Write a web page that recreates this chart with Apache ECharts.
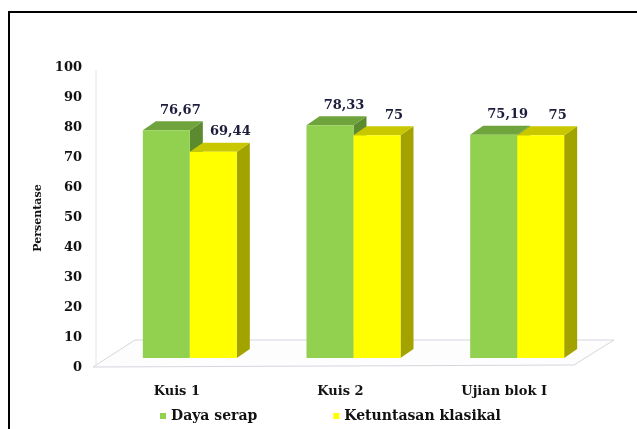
<!DOCTYPE html>
<html>
<head>
<meta charset="utf-8">
<script src="https://cdn.jsdelivr.net/npm/echarts@6/dist/echarts.min.js"></script>
<style>
  html, body { margin: 0; padding: 0; background: #fff; }
  #chart { width: 637px; height: 429px; }
</style>
</head>
<body>
<div id="chart"></div>
<script>
// Assessment results per test
const categories = ['Kuis 1', 'Kuis 2', 'Ujian blok I'];
const dayaSerap = [76.67, 78.33, 75.19];
const ketuntasan = [69.44, 75, 75];
const valueLabels = [['76,67', '78,33', '75,19'], ['69,44', '75', '75']];
const seriesNames = ['Daya serap', 'Ketuntasan klasikal'];
const yTicks = [0, 10, 20, 30, 40, 50, 60, 70, 80, 90, 100];

const FONT = 'DejaVu Serif';
const DEPTH_X = 13, DEPTH_Y = -9, BAR_W = 47;

// face colours: front, top, side
const palettes = [
  { front: '#92D050', top: '#6FA33C', side: '#5C8A2E' },
  { front: '#FFFF00', top: '#C9C800', side: '#A3A300' }
];
const labelShift = [14, 17];

function makeRender(sIdx) {
  return function (params, api) {
    const i = api.value(0);
    const v = api.value(1);
    const top = api.coord([i, v]);
    const base = api.coord([i, 0]);
    const x0 = sIdx === 0 ? top[0] - BAR_W : top[0];
    const x1 = x0 + BAR_W;
    const yT = top[1], yB = base[1];
    const p = palettes[sIdx];
    return {
      type: 'group',
      children: [
        { type: 'polygon', shape: { points: [[x1, yT], [x1 + DEPTH_X, yT + DEPTH_Y], [x1 + DEPTH_X, yB + DEPTH_Y], [x1, yB]] },
          style: { fill: p.side } },
        { type: 'polygon', shape: { points: [[x0, yT], [x0 + DEPTH_X, yT + DEPTH_Y], [x1 + DEPTH_X, yT + DEPTH_Y], [x1, yT]] },
          style: { fill: p.top } },
        { type: 'rect', shape: { x: x0, y: yT, width: BAR_W, height: yB - yT },
          style: { fill: p.front } },
        { type: 'text', x: (x0 + x1) / 2 + labelShift[sIdx], y: yT - 20,
          style: { text: valueLabels[sIdx][params.dataIndex], font: 'bold 13px "' + FONT + '"',
                   fill: '#1c1c3c', align: 'center', verticalAlign: 'middle' } }
      ]
    };
  };
}

const chart = echarts.init(document.getElementById('chart'), null, { renderer: 'canvas' });

chart.setOption({
  backgroundColor: '#ffffff',
  animation: false,
  grid: [
    { left: 108, right: 38, top: 61, bottom: 71 },
    { left: 108, right: 38, top: 68, height: 300 }
  ],
  xAxis: [
    { type: 'category', gridIndex: 0, data: categories,
      axisLine: { show: false }, axisTick: { show: false },
      axisLabel: { margin: 27, color: '#111', fontFamily: FONT, fontWeight: 'bold', fontSize: 13,
                   padding: [0, 26, 0, 0] } },
    { type: 'category', gridIndex: 1, data: categories, show: false }
  ],
  yAxis: [
    { type: 'value', gridIndex: 0, min: 0, max: 100, show: false },
    { type: 'value', gridIndex: 1, min: 0, max: 100, interval: 10,
      name: 'Persentase', nameLocation: 'middle', nameGap: 55, nameRotate: 90,
      nameTextStyle: { color: '#111', fontFamily: FONT, fontWeight: 'bold', fontSize: 11 },
      axisLine: { show: false }, axisTick: { show: false }, splitLine: { show: false },
      axisLabel: { margin: 26, color: '#111', fontFamily: FONT, fontWeight: 'bold', fontSize: 13 } }
  ],
  legend: {
    bottom: 1, left: 155, itemGap: 76, itemWidth: 6, itemHeight: 6, icon: 'rect',
    textStyle: { color: '#111', fontFamily: FONT, fontWeight: 'bold', fontSize: 14 },
    data: [
      { name: seriesNames[0], itemStyle: { color: palettes[0].front } },
      { name: seriesNames[1], itemStyle: { color: palettes[1].front } }
    ]
  },
  series: [
    { name: seriesNames[0], type: 'custom', xAxisIndex: 0, yAxisIndex: 0, z: 3,
      itemStyle: { color: palettes[0].front },
      renderItem: makeRender(0), encode: { x: 0, y: 1 },
      data: dayaSerap.map((v, i) => [i, v]) },
    { name: seriesNames[1], type: 'custom', xAxisIndex: 0, yAxisIndex: 0, z: 4,
      itemStyle: { color: palettes[1].front },
      renderItem: makeRender(1), encode: { x: 0, y: 1 },
      data: ketuntasan.map((v, i) => [i, v]) }
  ]
});

// Floor, back wall edge and frame, placed from the axis scales
const fl = chart.convertToPixel({ xAxisIndex: 1, yAxisIndex: 1 }, [0, 0]);
const bL = chart.convertToPixel({ gridIndex: 0 }, [0, 0]);
const bandW = chart.convertToPixel({ xAxisIndex: 0 }, 1) - chart.convertToPixel({ xAxisIndex: 0 }, 0);
const frontL = [bL[0] - bandW / 2 - 15, fl[1] - 1];
const frontR = [bL[0] + bandW * 2.5 - 25, fl[1] - 3];
const backL = [frontL[0] + 42, frontL[1] - 27];
const backR = [frontR[0] + 40, frontR[1] - 25];
const wallTop = chart.convertToPixel({ xAxisIndex: 1, yAxisIndex: 1 }, [0, 100]);

chart.setOption({
  graphic: [
    { type: 'polygon', z: 0, shape: { points: [frontL, frontR, backR, backL] },
      style: { fill: '#fdfdfe', stroke: '#d6d6de', lineWidth: 1 } },
    { type: 'line', z: 0, shape: { x1: frontL[0] + 3, y1: wallTop[1] + 2, x2: frontL[0] + 3, y2: frontL[1] },
      style: { stroke: '#e4e4ea', lineWidth: 1 } },
    { type: 'rect', z: 10, shape: { x: 9, y: 12, width: 700, height: 500 },
      style: { fill: 'none', stroke: '#000', lineWidth: 2 } }
  ]
});
</script>
</body>
</html>
